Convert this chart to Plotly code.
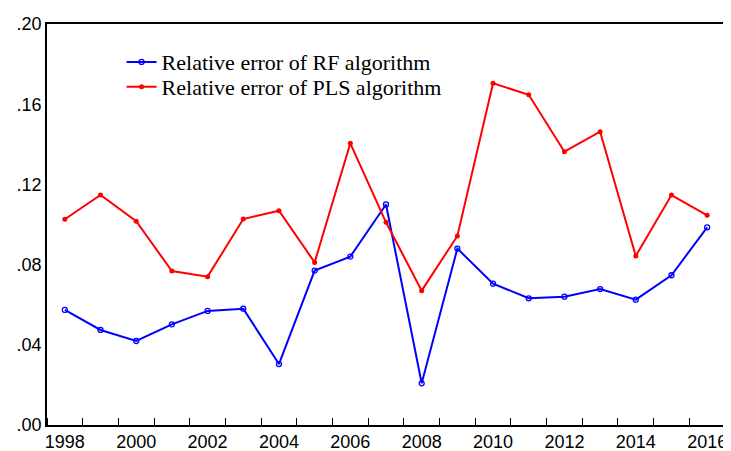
import plotly.graph_objects as go

years = list(range(1998, 2017))
rf_error = [0.0574, 0.0474, 0.0419, 0.0502, 0.0569, 0.0580, 0.0304, 0.0770, 0.0840, 0.1100,
            0.0208, 0.0880, 0.0705, 0.0632, 0.0640, 0.0678, 0.0625, 0.0747, 0.0986]
pls_error = [0.1026, 0.1147, 0.1016, 0.0768, 0.0740, 0.1027, 0.1069, 0.0811, 0.1405, 0.1011,
             0.0670, 0.0943, 0.1704, 0.1647, 0.1363, 0.1463, 0.0843, 0.1147, 0.1046]
x_labels = [str(y) for y in range(1998, 2017, 2)]
y_ticks = [0.0, 0.04, 0.08, 0.12, 0.16, 0.20]
y_labels = [".00", ".04", ".08", ".12", ".16", ".20"]

fig = go.Figure()
fig.add_trace(go.Scatter(
    x=years, y=rf_error, mode="lines+markers",
    name="Relative error of RF algorithm", legend="legend",
    line=dict(color="#0000ff", width=2),
    marker=dict(symbol="circle-open", size=5, color="#0000ff", line=dict(width=1.3)),
))
fig.add_trace(go.Scatter(
    x=years, y=pls_error, mode="lines+markers",
    name="Relative error of PLS algorithm", legend="legend2",
    line=dict(color="#ff0000", width=2),
    marker=dict(symbol="circle", size=5, color="#ff0000"),
))

legend_font = dict(family="Liberation Serif, Times New Roman", size=22, color="black")

# page body adds an 8px offset: shrink the figure by 8px so nothing overflows
fig.update_layout(
    width=723, height=443,
    plot_bgcolor="white", paper_bgcolor="white",
    margin=dict(l=39, r=6, t=16, b=26),
    font=dict(family="Liberation Sans, Arial", size=18, color="black"),
    legend=dict(x=0.11, y=0.905, xanchor="left", yanchor="middle",
                bgcolor="rgba(0,0,0,0)", font=legend_font),
    legend2=dict(x=0.11, y=0.843, xanchor="left", yanchor="middle",
                 bgcolor="rgba(0,0,0,0)", font=legend_font),
    showlegend=True,
)
fig.update_xaxes(
    range=[1997.5, 2016.5], automargin=False,
    tickvals=[int(s) for s in x_labels], ticktext=x_labels,
    ticks="", showgrid=False, zeroline=False,
    showline=True, linecolor="black", linewidth=1.5, mirror=True,
    minor=dict(tick0=1998.5, dtick=1, ticks="inside", ticklen=7,
               tickcolor="black", tickwidth=1.3, showgrid=False),
)
fig.update_yaxes(
    range=[0, 0.20], automargin=False,
    tickvals=y_ticks, ticktext=y_labels,
    ticks="", showgrid=False, zeroline=False,
    showline=True, linecolor="black", linewidth=1.5, mirror=True,
)

fig.write_html("out.html")
